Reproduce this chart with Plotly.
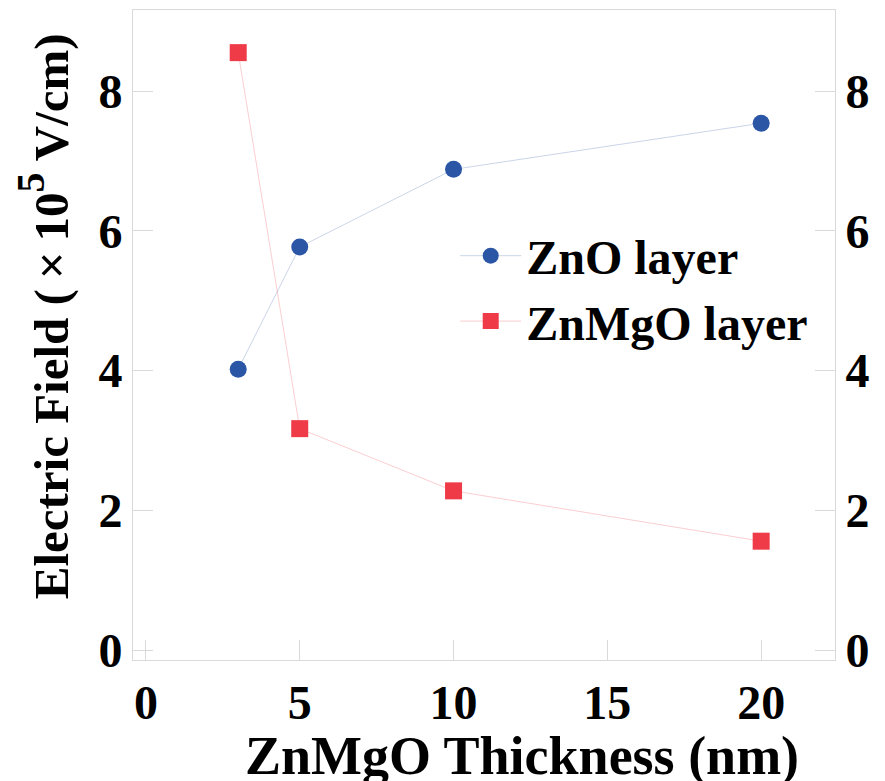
import plotly.graph_objects as go

thickness = [3, 5, 10, 20]
zno_field = [4.02, 5.77, 6.88, 7.54]
znmgo_field = [8.55, 3.17, 2.28, 1.56]
x_ticks = [0, 5, 10, 15, 20]
y_ticks = [0, 2, 4, 6, 8]

FONT = "Times New Roman, Liberation Serif, serif"

fig = go.Figure()
fig.add_trace(go.Scatter(
    x=thickness, y=zno_field, mode="lines+markers", name="ZnO layer",
    line=dict(color="rgba(43,86,166,0.25)", width=1),
    marker=dict(symbol="circle", size=17, color="#2b56a6"),
))
fig.add_trace(go.Scatter(
    x=thickness, y=znmgo_field, mode="lines+markers", name="ZnMgO layer",
    line=dict(color="rgba(239,59,72,0.25)", width=1),
    marker=dict(symbol="square", size=17, color="#ef3b48"),
))
# invisible trace to activate the right axis
fig.add_trace(go.Scatter(x=thickness, y=zno_field, yaxis="y2", mode="markers",
                         marker=dict(opacity=0), showlegend=False, hoverinfo="skip"))

axis_line = "#d9d9d9"
fig.update_layout(
    width=885, height=781,
    margin=dict(l=125, r=58, t=2, b=129),
    paper_bgcolor="white", plot_bgcolor="white",
    font=dict(family=FONT, size=48, color="black", weight="bold"),
    showlegend=True,
    legend=dict(x=0.459, y=0.68, xanchor="left", yanchor="top",
                bgcolor="rgba(0,0,0,0)", font=dict(size=48, family=FONT, weight="bold"),
                itemwidth=61),
    xaxis=dict(
        range=[-0.42, 22.4], tickvals=x_ticks, ticktext=[str(v) for v in x_ticks],
        ticks="inside", ticklen=20, tickcolor=axis_line, tickwidth=1,
        showline=True, linecolor=axis_line, linewidth=1, mirror=True,
        showgrid=False, zeroline=False, automargin=False,
    ),
    yaxis=dict(
        range=[-0.14, 9.16], tickvals=y_ticks, ticktext=[str(v) for v in y_ticks],
        ticks="inside", ticklen=20, tickcolor=axis_line, tickwidth=1,
        showline=True, linecolor=axis_line, linewidth=1,
        showgrid=False, zeroline=False, automargin=False,
    ),
    yaxis2=dict(
        overlaying="y", side="right", matches="y",
        range=[-0.14, 9.16], tickvals=y_ticks, ticktext=[str(v) for v in y_ticks],
        ticks="inside", ticklen=20, tickcolor=axis_line, tickwidth=1,
        showline=True, linecolor=axis_line, linewidth=1,
        showgrid=False, zeroline=False, automargin=False,
    ),
    annotations=[
        dict(text="ZnMgO Thickness (nm)", xref="paper", yref="paper",
             x=0.554, y=-0.148, xanchor="center", yanchor="middle", showarrow=False,
             font=dict(size=54, family=FONT, weight="bold", color="black")),
        dict(text="Electric Field (\u2009\u00d7\u200910<span style='font-size:57px'><sup>5</sup></span> V/cm)",
             xref="paper", yref="paper", textangle=-90,
             x=-0.128, y=0.529, xanchor="center", yanchor="middle", showarrow=False,
             font=dict(size=49, family=FONT, weight="bold", color="black")),
    ],
)

fig.write_html("out.html")
